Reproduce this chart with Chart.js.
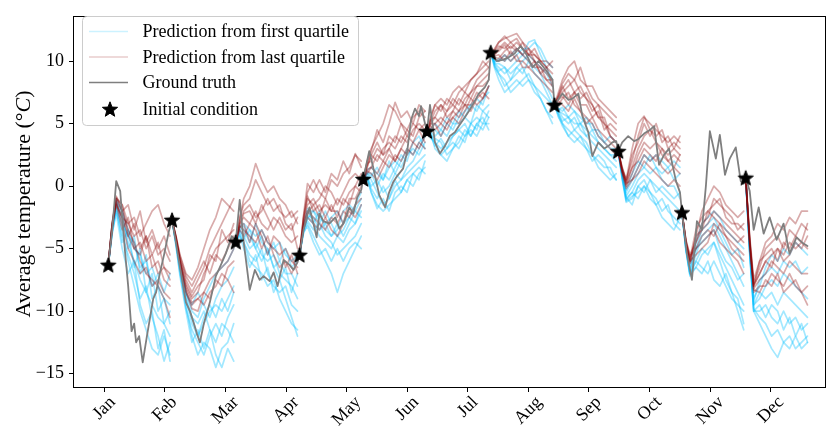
<!DOCTYPE html>
<html>
<head>
<meta charset="utf-8">
<script src="https://cdn.jsdelivr.net/npm/chart.js@4.4.0/dist/chart.umd.min.js"></script>
<style>
  html, body { margin: 0; padding: 0; background: #fff; }
  #wrap { width: 835px; height: 429px; position: relative; }
</style>
</head>
<body>
<div id="wrap"><canvas id="tempChart"></canvas></div>
<script>
// ---- data (x = day of year, y = °C) ----
var MONTH_LABELS = ['Jan', 'Feb', 'Mar', 'Apr', 'May', 'Jun', 'Jul', 'Aug', 'Sep', 'Oct', 'Nov', 'Dec'];
var MONTH_TICKS = [0, 30.4, 60.8, 91.3, 121.7, 152.1, 182.5, 212.9, 243.3, 273.8, 304.2, 334.6];
var Y_TICKS = [-15, -10, -5, 0, 5, 10];

// start day of each 32-day forecast window and the initial condition (star)
var SEG_STARTS = [2, 34, 66, 98, 130, 162, 194, 226, 258, 290, 322];
var START_TEMPS = [-6.3, -2.7, -4.45, -5.5, 0.57, 4.4, 10.7, 6.5, 2.8, -2.1, 0.67];
// days after the start at which each forecast run is sampled
var STEP_OFFSETS = [0, 2, 4, 7, 10, 13, 16, 19, 22, 25, 28, 31];

// forecasts started from the first quartile (blue), one block per window
var FIRST_QUARTILE_RUNS = [
  [[-6.3,-3,-1.2,-2.5,-4.5,-6,-7.5,-8.5,-9.5,-10.5,-11,-12],
   [-6.3,-3.5,-1.8,-3.5,-6,-8,-10,-11.5,-13,-13.5,-12,-13.5],
   [-6.3,-3.2,-1,-2,-3.5,-5,-5.5,-7,-6.5,-8,-9,-9.5],
   [-6.3,-3.8,-2,-4,-5.5,-7,-9,-8,-10.5,-12,-14,-12.5],
   [-6.3,-3.4,-1.5,-3,-4,-4.5,-6.5,-6,-8,-7,-8.5,-7],
   [-6.3,-3.6,-1.6,-4.5,-3.5,-6.5,-5,-8.5,-7,-10,-9,-11],
   [-6.3,-3.3,-1.3,-2,-5,-4,-7,-5.5,-9,-8,-11,-10],
   [-6.3,-3.7,-2.2,-5,-7,-6,-9.5,-11,-10,-13,-11.5,-14]],
  [[-2.7,-4.5,-6.5,-9,-11,-12,-11,-10,-9.5,-10,-9,-8],
   [-2.7,-4.8,-7,-9.5,-12,-13.5,-12.5,-13,-14.5,-13,-12.5,-11],
   [-2.7,-4.3,-6,-8.5,-10,-10.5,-9,-8,-7,-6.5,-6,-5],
   [-2.7,-4.6,-6.8,-9.8,-11.5,-12.5,-13.5,-12,-11,-12,-10.5,-9.5],
   [-2.7,-4.4,-6.3,-8.8,-10.5,-11,-10,-11.5,-12.5,-11,-11.5,-12.5],
   [-2.7,-4.7,-7.2,-10,-12.5,-11.5,-13,-11.5,-13.5,-14.5,-13,-14],
   [-2.7,-4.5,-6.6,-9.2,-10.5,-12,-10.5,-9.5,-10.5,-9,-10,-8.5],
   [-2.7,-4.4,-6.4,-8.6,-9.5,-8.5,-9.5,-10.5,-9,-8,-7.5,-6.5]],
  [[-4.45,-3.5,-4,-5,-4.5,-5.5,-6,-5.5,-7,-7.5,-8,-9],
   [-4.45,-4,-4.5,-6,-6.5,-7,-8,-7.5,-9,-10,-11,-11.5],
   [-4.45,-3.2,-3,-3.5,-4,-3.5,-4.5,-5,-4.5,-5.5,-6,-5.5],
   [-4.45,-3.8,-4.5,-5.5,-6,-5,-7,-8,-8.5,-8,-9.5,-10],
   [-4.45,-3.4,-3.5,-4.5,-3,-4.5,-5,-6.5,-6,-7,-7,-8],
   [-4.45,-3.6,-4.2,-3.5,-5,-6,-5,-6.5,-7.5,-6.5,-8.5,-7],
   [-4.45,-3.9,-5,-6.5,-5.5,-7.5,-6.5,-8.5,-7.5,-9,-10.5,-12],
   [-4.45,-3.3,-3.2,-4,-5,-4,-5.5,-4.5,-6,-5,-6.5,-6]],
  [[-5.5,-3.5,-2.5,-3,-4,-4.5,-5,-4,-4.5,-3.5,-3,-2],
   [-5.5,-3.8,-3,-4,-5,-6,-7,-8.5,-7,-6,-5,-4],
   [-5.5,-3.3,-2,-2,-2.5,-3,-2.5,-2,-3,-2.5,-1.5,-0.5],
   [-5.5,-3.6,-2.8,-3.5,-3,-4,-4.5,-5.5,-5,-4.5,-4,-3],
   [-5.5,-3.4,-2.4,-2.5,-3.5,-3,-4,-3.5,-2,-1.5,-2,-1],
   [-5.5,-3.7,-3.2,-4.5,-5.5,-5,-6,-5,-6,-5,-4.5,-5],
   [-5.5,-3.5,-2.6,-2,-3,-2,-3,-4,-3.5,-2.5,-3,-1.5],
   [-5.5,-3.2,-1.8,-3,-2,-3.5,-4,-3,-4,-3,-2,-2.5]],
  [[0.57,1,0.5,-0.5,-1.5,-1,0,0.5,1,1.5,2,2.5],
   [0.57,0.5,-0.5,-1.5,-2,-1.5,-1,-0.5,0.5,0,1,1.5],
   [0.57,1.3,1.5,1,0.5,1.5,2,1.5,2.5,3,2.5,3.5],
   [0.57,0.8,0,0.5,-0.5,0,1,0.5,1.5,2,3,4],
   [0.57,1.1,1,0,1,0.5,1.5,2.5,2,3.5,4,3],
   [0.57,0.6,-0.2,-1,0,-1,0.5,-0.5,0.5,1,0.5,2],
   [0.57,1,0.8,1.5,0.5,2,1,2,3,2.5,3.5,4],
   [0.57,0.7,-0.5,-1.8,-1,-2,-0.5,0,-0.5,1,1.5,1]],
  [[4.4,4,3.5,3,3.5,4,4.5,4,5,5.5,5,6],
   [4.4,4.2,3,2.5,2,3,3.5,4.5,4,5,5.5,4.5],
   [4.4,4.5,4.5,4,5,4.5,5.5,6,6.5,6,7,7.5],
   [4.4,3.8,3.5,2.5,3,3.5,3,4,4.5,4,5,5],
   [4.4,4.3,4,4.5,4,5,5,5.5,5,6.5,6,6.5],
   [4.4,4.1,3.8,3.5,2.5,3,4,3.5,5,4.5,6,5.5],
   [4.4,4.6,5,4.5,5.5,5,6,5.5,6.5,7,6.5,8],
   [4.4,4,3.2,3.8,3,4,4.5,5,4,5,4.5,5.5]],
  [[10.7,9.8,9.5,9,9.5,10,10.5,10,9.5,9,8,7],
   [10.7,9.5,9,8.5,7.5,8,8.5,9,8,7,6,5],
   [10.7,10,10,10.5,10,10.5,11,11,11.5,11,10,9.5],
   [10.7,9.6,9,8,8.5,9,9.5,8.5,8,7.5,7,6.5],
   [10.7,9.8,9.8,9.5,9,9.5,10,10.5,10,9.5,9,8],
   [10.7,9.7,9.2,9.5,8.5,9.5,9,10,9,8.5,7.5,6.5],
   [10.7,9.9,10.2,10,10.5,11,10.5,11.5,11.7,10.5,9.5,8.5],
   [10.7,9.4,8.5,7.5,8,8.5,8,8.5,7.5,7,6,5.5]],
  [[6.5,6,5.5,5,5.5,4.5,4,3.5,3,2.5,2,1.5],
   [6.5,5.8,5,4.5,4,3.5,3,2.5,1.5,1,0.5,1],
   [6.5,6.2,6,6.5,6,5.5,5,5,4,3.5,3,3],
   [6.5,5.5,5,4,4.5,4,3,2,2.5,2,1,0.5],
   [6.5,6,5.8,5.5,5,5,4.5,4,3.5,3,2.5,2],
   [6.5,5.8,5.2,5.5,4.5,5,4,4.5,3.5,3,2.5,2.5],
   [6.5,6.1,6.3,5.5,6,5,5.5,4.5,4.5,3.5,4,3.5],
   [6.5,5.6,4.8,4,3.5,4,3.5,2.5,2,1.5,1.5,0.5]],
  [[2.8,0.8,-1,-0.5,0.5,1,0.5,0,-0.5,-1,-1.5,-2],
   [2.8,0.5,-1.3,-1,0,0.5,-0.5,-1.5,-2.5,-3,-3.5,-2.5],
   [2.8,1,-0.5,0.5,1.5,2.5,2,2.5,2,1.5,2,1.5],
   [2.8,0.7,-1.2,-0.8,-0.5,0,-1,-1.5,-1,-2,-2.5,-3],
   [2.8,0.9,-0.8,0,1,1.5,1,1.5,0.5,0,0,-1],
   [2.8,0.6,-1.1,-0.5,-1,0,-0.5,-1,-2,-1.5,-3,-3.5],
   [2.8,1.1,-0.3,1,2,1.5,2.5,1.5,1,1.5,0.5,1],
   [2.8,0.8,-0.9,-1.5,0,-0.5,0.5,-0.5,0,-0.5,-1,-0.5]],
  [[-2.1,-5,-7,-5.5,-4,-3.5,-3,-4,-5,-6,-7,-8],
   [-2.1,-5.2,-7.2,-6.5,-5.5,-5,-4.5,-6,-7.5,-8.5,-10,-11.5],
   [-2.1,-4.8,-6.5,-4.5,-3,-2.5,-2,-2.5,-3.5,-4,-4.5,-5],
   [-2.1,-5.1,-7,-6,-6.5,-7,-6,-7,-8,-9,-9.5,-10],
   [-2.1,-4.9,-6.8,-5,-4.5,-4,-3.5,-5,-6,-6.5,-7.5,-7],
   [-2.1,-5,-7.1,-6,-5,-5.5,-4.5,-5.5,-6.5,-7.5,-8.5,-9.5],
   [-2.1,-4.8,-6.6,-5,-3.5,-3,-2.5,-3.5,-4.5,-5.5,-5,-6.5],
   [-2.1,-5.1,-7,-6.5,-7,-6,-7.5,-8,-7,-8.5,-9,-11]],
  [[0.67,-5,-9.5,-9,-8,-7.5,-8,-7,-7.5,-8,-8.5,-9],
   [0.67,-5.5,-10,-11,-12,-13,-13.7,-12.5,-12,-13,-12.5,-12],
   [0.67,-4.8,-9,-8,-6.5,-5.5,-6,-5,-5.5,-4.5,-5,-5.5],
   [0.67,-5.2,-10,-10,-9.5,-10.5,-11,-10,-11,-10.5,-11.5,-11],
   [0.67,-5.1,-9.5,-8.5,-9,-8.5,-9.5,-8.5,-9,-9.5,-10,-10.5],
   [0.67,-5.3,-10,-9.5,-10.5,-9.5,-10,-11.5,-10.5,-12,-11,-12.5],
   [0.67,-4.9,-9.2,-7.5,-7,-6.5,-7,-6,-6.5,-6,-7,-6.5],
   [0.67,-5.2,-9.8,-10.5,-11,-12,-11.5,-12.5,-13,-12,-13,-12.5]]
];

// forecasts started from the last quartile (red)
var LAST_QUARTILE_RUNS = [
  [[-6.3,-3,-1,-1.5,-3,-2.5,-4,-3,-2,-1.5,-3,-4],
   [-6.3,-3.2,-1.3,-2.5,-4,-5,-4.5,-6,-5.5,-7,-6.5,-7.5],
   [-6.3,-3,-1,-2,-3.5,-4.5,-6,-7,-7.5,-8,-9,-10.5],
   [-6.3,-3.3,-1.5,-2.5,-3,-4,-3.5,-5,-4,-5.5,-5,-6],
   [-6.3,-3.1,-1.2,-3,-5,-6,-7,-6.5,-8,-7.5,-8.5,-9],
   [-6.3,-2.9,-0.8,-2,-1.5,-3.5,-2,-4.5,-3.5,-5,-4,-5.5],
   [-6.3,-3.2,-1.4,-3.5,-2.5,-5,-5.5,-4,-6.5,-6,-7.5,-8],
   [-6.3,-3,-0.9,-1.5,-4,-3,-5,-4,-5.5,-4.5,-6.5,-7]],
  [[-2.7,-4,-5.5,-7,-7.5,-6.5,-5,-3.5,-2.5,-1,-1.5,-2],
   [-2.7,-4.2,-6,-8,-9,-8.5,-7,-6,-5,-4.5,-4,-3.5],
   [-2.7,-4.3,-6.2,-8.5,-9.5,-9,-8.5,-7.5,-7,-6.5,-6,-5],
   [-2.7,-4.1,-5.8,-7.5,-8.5,-7.5,-6.5,-5,-4,-3,-2,-1],
   [-2.7,-4.2,-6,-8.2,-9.3,-9,-9.5,-8.5,-8,-7,-7.5,-8.5],
   [-2.7,-4,-5.6,-7.2,-8,-7,-6,-7,-5.5,-6,-5,-4],
   [-2.7,-4.3,-6.1,-8.4,-9.8,-10,-8.5,-9,-7.5,-8,-6.5,-6],
   [-2.7,-4.1,-5.9,-7.8,-8.8,-8,-7.5,-5.5,-6,-3.5,-4.5,-3]],
  [[-4.45,-2.5,-1.5,-1,0.5,-0.5,-1.5,-1,-2,-2.5,-2,-3],
   [-4.45,-3,-2.5,-3,-2,-3,-3.5,-2.5,-3,-4,-4.5,-4],
   [-4.45,-3.2,-3.5,-4,-4.5,-3.5,-4.5,-5,-5.5,-5,-6,-6.5],
   [-4.45,-2.8,-2,-1.5,-2.5,-2,-1,-2,-1.5,-3,-3.5,-2.5],
   [-4.45,-3.5,-4,-3,-3.5,-5,-4,-5.5,-6.5,-6,-7,-6],
   [-4.45,-2.6,-1,0,1.8,0.5,-0.5,0,-1,-1.5,-2.5,-2],
   [-4.45,-3.1,-2.2,-2,-3,-1.5,-2.5,-3.5,-2.5,-3.5,-3,-5],
   [-4.45,-3.3,-3,-4.5,-3,-4,-5.5,-4,-4.5,-6.5,-5.5,-7]],
  [[-5.5,-2.5,-0.5,0.5,-0.5,-1,0.5,0,1,1.5,2.5,2],
   [-5.5,-3,-1.5,-1,-2,-1.5,-2,-1,-1.5,-0.5,0,1],
   [-5.5,-3.2,-2,-2.5,-3,-3.5,-2.5,-3,-2,-2.5,-1.5,-1],
   [-5.5,-2.8,-1,-1.5,-1,0,-0.5,-1.5,-0.5,0.5,1,0.5],
   [-5.5,-3.5,-2.5,-3,-3.5,-2.5,-3.5,-4,-3,-2,-2.5,-1.5],
   [-5.5,-2.6,-0.8,-2,-1.5,-2.5,-1.5,-2.5,-1,-1.5,0,-0.5],
   [-5.5,-2.4,0.2,-0.5,0.5,-0.5,1,0.5,2,1,2.6,1.5],
   [-5.5,-3.3,-2.2,-1.5,-2.5,-1,-2,-2,-3,-1,-1,0]],
  [[0.57,2,3,4,5,6.5,6,5,4.5,5.5,6,5.5],
   [0.57,1.5,2.5,2,3,3.5,3,4,3.5,4.5,5,4.5],
   [0.57,1,1.5,1,2,1.5,2.5,2,3,2.5,3.5,3],
   [0.57,1.8,2,3,2.5,3,4,3.5,4.5,4,5.5,6],
   [0.57,1.2,1,0.5,1.5,2.5,2,3,2.5,3.5,3,4],
   [0.57,1.6,2.5,3.5,2.5,4,3.5,5,4,5,4.5,5],
   [0.57,1.3,1.5,2.5,2,3,2,3,4,3.5,4.5,3.5],
   [0.57,1.9,2.8,4.5,3.5,5,6.7,5.5,6,5,6.5,6]],
  [[4.4,5.5,6.5,6,7,6.5,7.5,8,8.5,9,9.5,10],
   [4.4,5,5.5,5,6,6.5,6,7,7.5,8,8,8.5],
   [4.4,4.8,4.5,5,4.5,5.5,6,6.5,6,7,7.5,7],
   [4.4,5.2,6,6.5,5.5,6,7,6.5,7.5,8.5,9,9.5],
   [4.4,4.6,5,4,5,5.5,5,6,7,6.5,7,8],
   [4.4,5.3,5.5,6.5,6,7,6.5,7.5,7,8,8.5,9],
   [4.4,5,5,5.5,5,6,5.5,6.5,6.5,7.5,7,8],
   [4.4,5.6,6.5,7,6.5,7.5,8,7.5,8.5,9,10,9.5]],
  [[10.7,11,11.5,11.8,12,12.2,11.5,11,10.5,10,9.5,9],
   [10.7,10.5,11,11.5,11,11.5,11,10.5,10.5,10,10,9.5],
   [10.7,10.2,10,10.5,10,10.5,9.5,9.5,9,8.5,8,7.5],
   [10.7,10.8,11.2,11,11.5,11,10.5,11,10,9.5,9,8.5],
   [10.7,10.4,10.5,10,10.8,10,10,9.5,10,9,8.5,8],
   [10.7,10.9,11.5,12,11.5,11.8,11,10.5,11,10,9.5,10],
   [10.7,10.6,10.8,11.3,10.5,11,10.5,10,9.5,9.5,8.5,8.5],
   [10.7,10.3,10.2,10.8,11.2,10.8,11.5,10.5,10,9,9.5,8]],
  [[6.5,7.5,8.5,9.5,10,8.5,8,7,6.5,6,5.5,5],
   [6.5,7,7.5,8,8.5,7.5,7,6.5,5.5,5,4.5,4],
   [6.5,6.5,7,7.5,6.5,6,5.5,5,4,3.5,3,2.5],
   [6.5,7.2,8,7,7.5,8,7,6,6.5,5,4,3.5],
   [6.5,6.8,6.5,6,7,6,5,5.5,4.5,4,3.5,3],
   [6.5,7.3,8.2,9,8.5,9.5,8,8,7,6.5,6,5.5],
   [6.5,6.9,7.2,6.5,7.5,6.5,6.5,5.5,6,4.5,5,4.5],
   [6.5,7.1,7.8,8.5,7.5,7,7.5,6.5,5.5,5.5,4,3.5]],
  [[2.8,1.5,0.5,2,4,5.5,5,4.5,4,3.5,4,3.5],
   [2.8,1.2,0,1,2.5,3.5,3,3.5,2.5,2,2.5,2],
   [2.8,1,-0.2,0.5,1,2,1.5,1,0.5,0,0.5,0],
   [2.8,1.4,0.3,1.5,3,4,4.5,3.5,3,2.5,3,2.5],
   [2.8,1.1,0.2,0.5,1.5,2.5,2,2.5,1.5,1,1.5,1],
   [2.8,1.3,0.4,2.5,3.5,5,4,5,3.5,4,3,4],
   [2.8,1.2,0.1,1.5,2,3,2.5,2,3,2,1.5,2.5],
   [2.8,1.4,0.5,3,5,5.6,4.5,4,4.5,3,3.5,3]],
  [[-2.1,-4.5,-6,-4,-2,-1,0,-0.5,-1.5,-2,-2.5,-2],
   [-2.1,-4.3,-5.5,-4.5,-3.5,-3,-2,-2.5,-3,-3.5,-4,-4.5],
   [-2.1,-4.6,-6.2,-5,-4.5,-4,-3.5,-4.5,-5,-5.5,-6,-7],
   [-2.1,-4.4,-5.8,-3.5,-2.5,-2,-1.5,-1,-2.5,-3,-3,-3.5],
   [-2.1,-4.7,-6,-5.5,-5,-4.5,-3,-3.5,-4,-5,-5.5,-6],
   [-2.1,-4.5,-5.9,-4.5,-3,-2.5,-1,-1.5,-2,-2.5,-3.5,-3],
   [-2.1,-4.4,-5.6,-5,-4,-3.5,-4,-3,-4,-4.5,-5,-5.5],
   [-2.1,-4.6,-6.1,-4,-3.5,-2,-2.5,-3,-3.5,-4,-4.5,-4]],
  [[0.67,-4,-7.5,-6,-4.5,-4,-3,-3.5,-2.5,-3,-2,-2],
   [0.67,-4.5,-8,-7,-6,-5.5,-5,-5.5,-4.5,-5,-4.5,-5],
   [0.67,-4.8,-8.5,-8,-8,-7,-7.5,-8,-7,-8,-8.5,-9.5],
   [0.67,-4.2,-7.8,-6.5,-5,-4.5,-4,-5,-3.5,-4,-3,-3.5],
   [0.67,-4.6,-8.2,-7.5,-7,-6,-6.5,-7,-6,-6.5,-7,-7],
   [0.67,-4.3,-7.9,-7,-6,-6.5,-5,-6,-5.5,-4.5,-5,-4],
   [0.67,-4.7,-8.3,-8.5,-7.5,-8,-7,-8.5,-8,-7.5,-8.5,-8],
   [0.67,-4.4,-8,-6,-5.5,-5,-6,-4.5,-5,-4,-4.5,-3]]
];

// observed daily temperature (ground truth)
var TRUTH_DAYS = [2,4,6,8,9,10.5,12,13.7,15,16,17.5,19.3,21.3,23,24.6,26,28,30,32.3,
  34,36,38,41,43,45,46.5,48,50,53,56,58,61,64,
  66,68,70,73,75.6,78,80,83,85,87,90,93,95,97,
  98,100,103,105,106.6,108,110,113,116,118,120,123,125,127,129,
  130,133,135,138,141,143,145,147,150,152,154,156,158,159,161,
  162,163.5,166,168.5,171,173.5,176,178,181,183.5,186,188,191,193,
  194,197,200,203,206,209,212,215,218,220,222,225,
  226,230,233,235,238,240,243,245,248,251,253,255,257,
  258,260,263,266,268,271,274,276,278.5,281,283.5,287,289,
  290,292.5,295,297.5,300,302,304,307,309,311.6,314,317,319.5,321,
  322,324,326,328.5,331,334,337.5,341,344,347.5,351,353];
var TRUTH_TEMPS = [-6.3,-3.5,0.4,-0.4,-2.5,-5.4,-8,-11.6,-11,-12.5,-12,-14.1,-12.1,-10.5,-9,-8.5,-6.9,-5.5,-3.7,
  -2.7,-4.5,-6.5,-9.3,-10,-11,-11.8,-12.5,-11,-9.3,-7.2,-6.5,-5.4,-4,
  -4.45,-1.1,-4.5,-8.3,-6.7,-7.5,-7.2,-7.6,-6.9,-8,-5.9,-6.3,-6.7,-6.1,
  -5.5,-3.5,-1.7,-3,-4.1,-2.2,-2.8,-3,-2.5,-3.4,-3,-1.7,-2.2,-0.9,-0.3,
  0.57,2.8,1.5,-0.7,-1.7,-0.5,0.3,0.8,1.4,2.7,5.3,6.2,5.6,6.4,5,
  4.4,6.5,3.5,2.6,3.2,4,4.3,4.8,5.5,6.1,6.8,7.4,7.9,8.5,
  10.7,10,10.1,10.3,10.6,11.2,10.5,9.5,10,9.6,9.2,8.5,
  6.5,7.4,6.9,7,7.4,5.6,4.3,2.4,3.5,3,3.2,3.5,3.6,
  2.8,3.5,4,3.6,3.75,4.2,4.5,4.8,1.7,2.5,3,0.4,-0.5,
  -2.1,-5.4,-7.5,-2.8,-3.5,0,4.4,2.2,4.1,0.9,2.2,3.1,0.4,0.2,
  0.67,-0.4,-3.5,-1.7,-3.8,-2.5,-4.3,-3,-5.4,-4.1,-4.6,-4.8];

// ---- styling ----
var FONT = "'Liberation Serif', 'Times New Roman', serif";
var BLUE_LINE = 'rgba(0, 191, 255, 0.36)';
var RED_LINE = 'rgba(139, 0, 0, 0.33)';
var TRUTH_LINE = '#7f7f7f';

// filled five point star used as marker
function makeStar(size, outer, inner) {
  var c = document.createElement('canvas');
  c.width = size; c.height = size;
  var g = c.getContext('2d');
  g.beginPath();
  for (var i = 0; i < 10; i++) {
    var r = i % 2 ? inner : outer;
    var a = -Math.PI / 2 + i * Math.PI / 5;
    var px = size / 2 + r * Math.cos(a), py = size / 2 + r * Math.sin(a) + 0.8;
    if (i === 0) g.moveTo(px, py); else g.lineTo(px, py);
  }
  g.closePath();
  g.fillStyle = '#000';
  g.fill();
  g.lineWidth = 1;
  g.strokeStyle = '#000';
  g.stroke();
  return c;
}
var starImg = makeStar(20, 8, 3.4);

function runPoints(seg, run) {
  return STEP_OFFSETS.map(function(o, i) { return { x: SEG_STARTS[seg] + o, y: run[i] }; });
}

var datasets = [];
FIRST_QUARTILE_RUNS.forEach(function(runs, s) {
  runs.forEach(function(run) {
    datasets.push({ data: runPoints(s, run), borderColor: BLUE_LINE, borderWidth: 1.7, pointRadius: 0, order: 3 });
  });
});
LAST_QUARTILE_RUNS.forEach(function(runs, s) {
  runs.forEach(function(run) {
    datasets.push({ data: runPoints(s, run), borderColor: RED_LINE, borderWidth: 1.7, pointRadius: 0, order: 2 });
  });
});
datasets.push({
  data: TRUTH_DAYS.map(function(d, i) { return { x: d, y: TRUTH_TEMPS[i] }; }),
  borderColor: TRUTH_LINE, borderWidth: 1.8, pointRadius: 0, order: 1
});
datasets.push({
  data: SEG_STARTS.map(function(d, i) { return { x: d, y: START_TEMPS[i] }; }),
  showLine: false, pointStyle: starImg, pointRadius: 8, order: 0
});

// frame, axis labels and the legend box are drawn by hand
var decorations = {
  id: 'decorations',
  afterDraw: function(chart) {
    var ctx = chart.ctx, area = chart.chartArea;
    var xs = chart.scales.x;
    ctx.save();

    // full box round the axes
    ctx.strokeStyle = '#000';
    ctx.lineWidth = 1;
    ctx.strokeRect(Math.round(area.left) + 0.5, Math.round(area.top) + 0.5,
      Math.round(area.right - area.left) - 1, Math.round(area.bottom - area.top) - 1);

    // rotated month labels, centred under each tick
    ctx.fillStyle = '#000';
    ctx.font = '18px ' + FONT;
    ctx.textAlign = 'center';
    ctx.textBaseline = 'middle';
    MONTH_TICKS.forEach(function(v, i) {
      var lab = MONTH_LABELS[i];
      var m = ctx.measureText(lab);
      var h = 13;
      var cx = xs.getPixelForValue(v);
      var cy = area.bottom + 7 + (m.width + h) * 0.3536;
      ctx.save();
      ctx.translate(cx, cy);
      ctx.rotate(-Math.PI / 4);
      ctx.fillText(lab, 0, 0);
      ctx.restore();
    });

    // y axis title: Average temperature (°C) with italic C
    var parts = [
      { t: 'Average temperature (', f: '22px ' + FONT },
      { t: '°', f: '22px ' + FONT },
      { t: 'C', f: 'italic 22px ' + FONT },
      { t: ')', f: '22px ' + FONT }
    ];
    var total = 0;
    parts.forEach(function(p) { ctx.font = p.f; p.w = ctx.measureText(p.t).width; total += p.w; });
    ctx.save();
    ctx.translate(24, 204);
    ctx.rotate(-Math.PI / 2);
    ctx.textAlign = 'left';
    ctx.textBaseline = 'middle';
    var px = -total / 2;
    parts.forEach(function(p) {
      ctx.font = p.f;
      ctx.fillText(p.t, px, 0);
      px += p.w;
    });
    ctx.restore();

    // legend
    var lx = 82.5, ly = 16.5, lw = 276, lh = 109, r = 4;
    ctx.beginPath();
    ctx.moveTo(lx + r, ly);
    ctx.arcTo(lx + lw, ly, lx + lw, ly + lh, r);
    ctx.arcTo(lx + lw, ly + lh, lx, ly + lh, r);
    ctx.arcTo(lx, ly + lh, lx, ly, r);
    ctx.arcTo(lx, ly, lx + lw, ly, r);
    ctx.closePath();
    ctx.fillStyle = 'rgba(255,255,255,0.8)';
    ctx.fill();
    ctx.strokeStyle = '#cccccc';
    ctx.stroke();

    var rows = [31.5, 57, 82.5, 109];
    var items = [
      { label: 'Prediction from first quartile', color: 'rgba(0, 191, 255, 0.2)' },
      { label: 'Prediction from last quartile', color: 'rgba(139, 0, 0, 0.2)' },
      { label: 'Ground truth', color: TRUTH_LINE },
      { label: 'Initial condition', star: true }
    ];
    items.forEach(function(it, i) {
      var y = rows[i];
      if (it.star) {
        ctx.drawImage(starImg, 110 - 10, y - 10);
      } else {
        ctx.beginPath();
        ctx.moveTo(89, y);
        ctx.lineTo(128, y);
        ctx.strokeStyle = it.color;
        ctx.lineWidth = 1.5;
        ctx.stroke();
      }
      ctx.fillStyle = '#000';
      ctx.font = '18px ' + FONT;
      ctx.textAlign = 'left';
      ctx.textBaseline = 'middle';
      ctx.fillText(it.label, 142.5, y + 1);
    });

    ctx.restore();
  }
};

new Chart(document.getElementById('tempChart'), {
  type: 'line',
  data: { datasets: datasets },
  options: {
    responsive: true,
    maintainAspectRatio: false,
    animation: false,
    layout: { padding: { top: 7, right: 9, left: 0, bottom: 0 } },
    plugins: { legend: { display: false }, tooltip: { enabled: false } },
    elements: { line: { tension: 0, borderCapStyle: 'round', borderJoinStyle: 'round' } },
    scales: {
      x: {
        type: 'linear',
        min: -15.7,
        max: 362.3,
        afterBuildTicks: function(axis) { axis.ticks = MONTH_TICKS.map(function(v) { return { value: v }; }); },
        afterFit: function(axis) { axis.height = 41; },
        ticks: { display: false },
        grid: { drawOnChartArea: false, drawTicks: true, tickLength: 4, color: '#000' },
        border: { display: false }
      },
      y: {
        min: -16.15,
        max: 13.62,
        afterBuildTicks: function(axis) { axis.ticks = Y_TICKS.map(function(v) { return { value: v }; }); },
        afterFit: function(axis) { axis.width = 73; },
        ticks: {
          color: '#000',
          padding: 5,
          font: { family: FONT, size: 18 },
          callback: function(v) { return v < 0 ? '\u2212' + Math.abs(v) : String(v); }
        },
        grid: { drawOnChartArea: false, drawTicks: true, tickLength: 4, color: '#000' },
        border: { display: false }
      }
    }
  },
  plugins: [decorations]
});
</script>
</body>
</html>
